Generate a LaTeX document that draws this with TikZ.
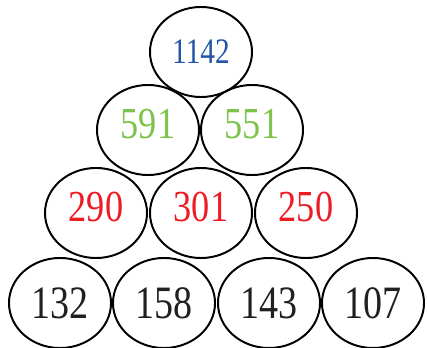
\documentclass[tikz,border=0pt]{standalone}
\usepackage{fontspec}
\usetikzlibrary{shapes.geometric}
\newfontfamily\numfont[FakeStretch=0.82]{Liberation Serif}
\definecolor{numblue}{RGB}{35,85,165}
\definecolor{numgreen}{RGB}{125,195,75}
\definecolor{numred}{RGB}{237,28,36}
\definecolor{numblack}{RGB}{35,31,32}
\begin{document}
\begin{tikzpicture}[x=0.025cm, y=-0.025cm,
    cell/.style={draw, ellipse, line width=1.4pt, minimum width=2.55cm, minimum height=2.25cm, inner sep=0pt},
    big/.style={font=\numfont\fontsize{33}{36}\selectfont},
    mid/.style={font=\numfont\fontsize{31.5}{34}\selectfont, text depth=9pt},
    small/.style={font=\numfont\fontsize{25.5}{28}\selectfont}]
    \useasboundingbox (0,0) rectangle (427,348);
    % Top
    \node[cell, small, text=numblue] (top) at (201, 52) {1142};
    % Row 2
    \node[cell, mid, text=numgreen] (b1) at (148, 130) {591};
    \node[cell, mid, text=numgreen] (b2) at (252, 130) {551};
    % Row 3
    \node[cell, mid, text=numred] (c1) at (96, 213) {290};
    \node[cell, mid, text=numred] (c2) at (201, 213) {301};
    \node[cell, mid, text=numred] (c3) at (306, 213) {250};
    % Bottom
    \node[cell, big, text=numblack] (d1) at (60, 303) {132};
    \node[cell, big, text=numblack] (d2) at (164, 303) {158};
    \node[cell, big, text=numblack] (d3) at (269, 303) {143};
    \node[cell, big, text=numblack] (d4) at (373, 303) {107};
\end{tikzpicture}
\end{document}
